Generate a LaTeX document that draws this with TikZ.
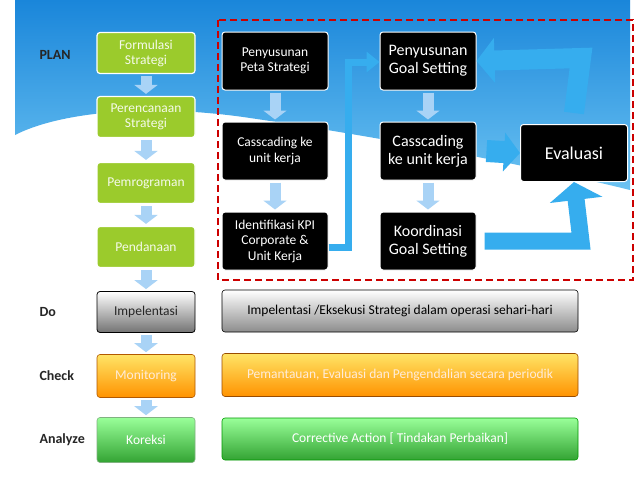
\documentclass[tikz,border=0pt]{standalone}
\usepackage{fontspec}
\setmainfont{Carlito}
\usetikzlibrary{arrows.meta}
\definecolor{skyA}{HTML}{1A86DA}
\definecolor{skyB}{HTML}{6CC3F2}
\definecolor{leaf}{HTML}{9BCB2C}
\definecolor{flow}{HTML}{36ADEE}
\definecolor{pale}{HTML}{A9D3F6}
\tikzset{
  stepgreen/.style={draw=white, line width=1.2pt, rounded corners=3pt, fill=leaf,
    text=white!90!leaf, minimum width=98pt, minimum height=41pt, align=center, font=\fontsize{13.5}{15}\selectfont},
  blackbox/.style={draw=white, line width=1pt, rounded corners=3pt, fill=black, text=white,
    minimum width=106pt, minimum height=58pt, align=center, font=\fontsize{13.5}{15.5}\selectfont},
  bar/.style={draw=#1!60!black, line width=0.6pt, rounded corners=3pt, minimum width=356pt, minimum height=42pt, font=\fontsize{13.5}{15}\selectfont},
  phase/.style={anchor=west, font=\bfseries\fontsize{14}{16}\selectfont, text=black!85},
  darr/.style={pale, line width=11pt, -{Triangle[width=23pt,length=9pt]}, shorten <=2pt, shorten >=2pt},
  bigarr/.style={flow, draw=flow, line join=miter},
}
\begin{document}
\begin{tikzpicture}[x=1pt,y=-1pt]
    \useasboundingbox (0,0) rectangle (638,479);
    \fill[white] (0,0) rectangle (638,479);
    % latar langit
    \shade[top color=skyA, bottom color=skyB] (15,0) -- (630,0) -- (630,190)
      .. controls (550,170) and (400,140) .. (250,118)
      .. controls (150,103) and (60,112) .. (15,135) -- cycle;

    % label fase
    \node[phase] (lplan) at (36,55) {PLAN};
    \node[phase] (ldo) at (36,312) {Do};
    \node[phase] (lcheck) at (36,376) {Check};
    \node[phase] (lanalyze) at (36,440) {Analyze};

    % kolom kiri
    \node[stepgreen] (formulasi) at (146,53) {Formulasi\\Strategi};
    \node[stepgreen] (perencanaan) at (146,117) {Perencanaan\\Strategi};
    \node[stepgreen] (pemrograman) at (146,183) {Pemrograman};
    \node[stepgreen] (pendanaan) at (146,247) {Pendanaan};
    \node[stepgreen, draw=black, line width=0.8pt, fill=none, top color=white, bottom color=black!55, text=black!85] (impl) at (146,312) {Impelentasi};
    \node[stepgreen, draw=orange!70!black, line width=0.6pt, fill=none, top color=orange!35!yellow!60, bottom color=orange!85!yellow, text=white!85!orange, minimum height=43pt] (monitor) at (146,376) {Monitoring};
    \node[stepgreen, draw=green!40!black!50, line width=0.6pt, fill=none, top color=green!40!white, bottom color=green!55!black!80, text=white, minimum height=45pt] (koreksi) at (146,440) {Koreksi};

    \draw[darr] (formulasi) -- (perencanaan);
    \draw[darr] (perencanaan) -- (pemrograman);
    \draw[darr] (pemrograman) -- (pendanaan);
    \draw[darr] (pendanaan) -- (impl);
    \draw[darr] (impl) -- (monitor);
    \draw[darr] (monitor) -- (koreksi);

    % bar kanan
    \node[bar=black, top color=white, bottom color=black!45] (bdo) at (400,311) {Impelentasi /Eksekusi Strategi dalam operasi sehari-hari};
    \node[bar=orange, top color=orange!35!yellow!60, bottom color=orange!85!yellow, text=white!85!orange, minimum height=43pt] (bcheck) at (400,375) {Pemantauan, Evaluasi dan Pengendalian secara periodik};
    \node[bar=green, top color=green!40!white, bottom color=green!55!black!80, text=white] (banalyze) at (400,439) {Corrective Action [ Tindakan Perbaikan]};

    % blok PLAN
    \node[blackbox] (peta) at (275,61) {Penyusunan\\Peta Strategi};
    \node[blackbox] (cascA) at (275,151) {Casscading ke\\unit kerja};
    \node[blackbox] (kpi) at (275,241) {Identifikasi KPI\\Corporate \&\\Unit Kerja};
    \node[blackbox, minimum width=96pt, font=\fontsize{16}{18}\selectfont] (goal) at (428,61) {Penyusunan\\Goal Setting};
    \node[blackbox, minimum width=96pt, font=\fontsize{16}{18}\selectfont] (cascB) at (428,151) {Casscading\\ke unit kerja};
    \node[blackbox, minimum width=96pt, font=\fontsize{16}{18}\selectfont] (koord) at (428,241) {Koordinasi\\Goal Setting};
    \node[blackbox, minimum width=107pt, minimum height=57pt, font=\fontsize{18}{20}\selectfont] (eval) at (574,153) {Evaluasi};

    \draw[darr] (peta) -- (cascA);
    \draw[darr] (cascA) -- (kpi);
    \draw[darr] (goal) -- (cascB);
    \draw[darr] (cascB) -- (koord);

    % panah besar
    \coordinate (upA) at (348,247);
    \coordinate (upB) at (348,62);
    \draw[bigarr, line width=7pt, -{Triangle[width=20pt,length=13pt]}] (kpi.east |- upA) -- (upA) -- (upB) -- (goal.west |- upB);
    \draw[bigarr, line width=22pt, -{Triangle[width=38pt,length=16pt]}] (cascB.east) ++(10,0) -- (eval.west);
    \coordinate (evUp) at (581,241);
    \draw[bigarr, line width=17pt, -{Triangle[width=52pt,length=18pt]}] (koord.east) ++(8,0) -- (evUp) -- (eval.south);
    \coordinate (evTop) at (581,58);
    \draw[bigarr, line width=20pt, -{Triangle[width=44pt,length=18pt]}] (eval.north) ++(0,-11) -- (evTop) -- (goal.east);

    % bingkai putus-putus
    \draw[red!80!black, dashed, line width=1.2pt, dash pattern=on 7pt off 4pt] (218,20) rectangle (633,280);
\end{tikzpicture}
\end{document}
